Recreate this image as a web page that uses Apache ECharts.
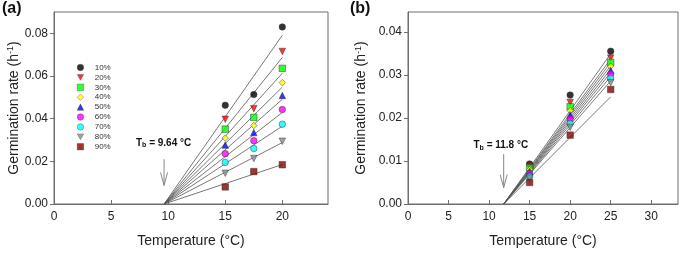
<!DOCTYPE html>
<html>
<head>
<meta charset="utf-8">
<script src="https://cdn.jsdelivr.net/npm/echarts@6/dist/echarts.min.js"></script>
<style>
  html, body { margin: 0; padding: 0; background: #fff; }
  #chart { width: 685px; height: 253px; }
</style>
</head>
<body>
<div id="chart"></div>
<script>
// germination levels (legend)
var levels = ['10%', '20%', '30%', '40%', '50%', '60%', '70%', '80%', '90%'];

// panel (a): temperatures and rates
var tempsA = [15, 17.5, 20];
var rateA15 = [0.0463, 0.0397, 0.0351, 0.0309, 0.0276, 0.0236, 0.0195, 0.0144, 0.0080];
var rateA175 = [0.0513, 0.0447, 0.0406, 0.0368, 0.0335, 0.0297, 0.0260, 0.0213, 0.0152];
var rateA20 = [0.0830, 0.0715, 0.0636, 0.0569, 0.0509, 0.0443, 0.0374, 0.0294, 0.0184];
var tbA = 9.64;
var fitEndA = [0.0791, 0.0687, 0.0613, 0.0548, 0.0491, 0.0429, 0.0365, 0.0288, 0.0185];

// panel (b)
var tempsB = [15, 20, 25];
var rateB15 = [0.0093, 0.0088, 0.0084, 0.0080, 0.0076, 0.0071, 0.0064, 0.0060, 0.0050];
var rateB20 = [0.0253, 0.0236, 0.0226, 0.0217, 0.0207, 0.0198, 0.0187, 0.0178, 0.0160];
var rateB25 = [0.0355, 0.0339, 0.0329, 0.0320, 0.0310, 0.0302, 0.0292, 0.0282, 0.0266];
var tbB = 11.8;
var fitEndB = [0.0349, 0.0337, 0.0329, 0.0321, 0.0313, 0.0305, 0.0296, 0.0286, 0.0249];

var markers = [
  {symbol: 'circle', color: '#000000'},
  {symbol: 'path://M0,0L10,0L5,9Z', color: '#ff0000'},
  {symbol: 'rect', color: '#00ff00'},
  {symbol: 'diamond', color: '#ffff00'},
  {symbol: 'triangle', color: '#0000ff'},
  {symbol: 'circle', color: '#ff00ff'},
  {symbol: 'circle', color: '#00ffff'},
  {symbol: 'path://M0,0L10,0L5,9Z', color: '#8c8c8c'},
  {symbol: 'rect', color: '#8b0000'}
];

var chart = echarts.init(document.getElementById('chart'));
var font = '"Liberation Sans", Arial, sans-serif';
var axisGray = '#6e6e6e';

function yAxisFor(idx, max, step) {
  return {
    type: 'value', gridIndex: idx, min: 0, max: max, interval: step,
    name: '{n|Germination rate (h}{s|-1}{n|)}',
    nameLocation: 'middle', nameGap: idx === 0 ? 32 : 39, nameRotate: 90,
    nameTextStyle: {
      rich: {
        n: {fontSize: 14, fontFamily: font, color: '#222'},
        s: {fontSize: 9, fontFamily: font, color: '#222', verticalAlign: 'top', padding: [0, 0, 6, 0]}
      }
    },
    axisLine: {show: true, lineStyle: {color: axisGray}},
    axisTick: {show: true, length: 4, lineStyle: {color: axisGray}},
    axisLabel: {fontSize: 12, fontFamily: font, color: '#222', margin: 6,
      showMaxLabel: false,
      formatter: function (v) { return v.toFixed(2); }},
    splitLine: {show: false}
  };
}

function xAxisFor(idx, max) {
  return {
    type: 'value', gridIndex: idx, min: 0, max: max, interval: 5,
    name: 'Temperature (°C)', nameLocation: 'middle', nameGap: 30,
    nameTextStyle: {fontSize: 14, fontFamily: font, color: '#222'},
    axisLine: {show: true, onZero: false, lineStyle: {color: axisGray}},
    axisTick: {show: true, inside: true, length: 4, lineStyle: {color: axisGray}},
    axisLabel: {fontSize: 12, fontFamily: font, color: '#222', margin: 7,
      showMaxLabel: false},
    splitLine: {show: false}
  };
}

var series = [];
function addPanel(idx, temps, cols, tb, ends, xEnd) {
  levels.forEach(function (lv, i) {
    series.push({
      type: 'line', xAxisIndex: idx, yAxisIndex: idx, silent: true,
      symbol: 'none', lineStyle: {color: '#555', width: 0.8}, z: 1,
      data: [[tb, 0], [xEnd, ends[i]]]
    });
  });
  levels.forEach(function (lv, i) {
    series.push({
      type: 'scatter', name: lv, xAxisIndex: idx, yAxisIndex: idx,
      symbol: markers[i].symbol, symbolSize: 6.5, z: 3,
      itemStyle: {color: markers[i].color, borderColor: '#333', borderWidth: 0.6},
      data: temps.map(function (t, k) { return [t, cols[k][i]]; })
    });
  });
}
addPanel(0, tempsA, [rateA15, rateA175, rateA20], tbA, fitEndA, 20);
addPanel(1, tempsB, [rateB15, rateB20, rateB25], tbB, fitEndB, 25);

var option = {
  animation: false,
  backgroundColor: '#fff',
  grid: [
    {left: 54, right: 357, top: 12, bottom: 45.5, show: true, borderColor: axisGray, borderWidth: 1},
    {left: 408, right: 7, top: 12, bottom: 43.7, show: true, borderColor: axisGray, borderWidth: 1}
  ],
  xAxis: [xAxisFor(0, 24), xAxisFor(1, 33.3)],
  yAxis: [yAxisFor(0, 0.09, 0.02), yAxisFor(1, 0.0446, 0.01)],
  legend: {
    data: levels, orient: 'vertical', left: 77, top: 63.5, padding: 0,
    itemWidth: 6.5, itemHeight: 6.5, itemGap: 1.9, selectedMode: false,
    itemStyle: {borderWidth: 0.4},
    textStyle: {fontSize: 8, fontFamily: font, color: '#333', padding: [0, 0, 0, 6], lineHeight: 8}
  },
  series: series
};
chart.setOption(option);

// annotations placed through the axes
function px(g, x, y) { return chart.convertToPixel({gridIndex: g}, [x, y]); }
function arrow(g, x, yTop, yTip) {
  var a = px(g, x, yTop), b = px(g, x, yTip);
  return [
    {type: 'line', shape: {x1: a[0], y1: a[1], x2: b[0], y2: b[1]}, style: {stroke: '#888', lineWidth: 1}},
    {type: 'polyline', shape: {points: [[b[0] - 3.5, b[1] - 13], [b[0], b[1]], [b[0] + 3.5, b[1] - 13]]},
      style: {stroke: '#888', lineWidth: 1, fill: null}}
  ];
}
function tbLabel(g, x, y, val) {
  var p = px(g, x, y);
  return {
    type: 'text', x: p[0], y: p[1],
    style: {
      text: '{t|T}{s|b}{t| = ' + val + ' °C}', align: 'center', verticalAlign: 'middle',
      rich: {
        t: {fontSize: 10, fontWeight: 'bold', fontFamily: font, fill: '#111'},
        s: {fontSize: 7, fontWeight: 'bold', fontFamily: font, fill: '#111', padding: [5, 0, 0, 0]}
      }
    }
  };
}
var graphics = []
  .concat(arrow(0, tbA, 0.021, 0.0087))
  .concat(arrow(1, tbB, 0.0116, 0.0038));
graphics.push(tbLabel(0, 9.6, 0.0286, '9.64'));
graphics.push(tbLabel(1, 11.45, 0.0136, '11.8'));
graphics.push({type: 'text', left: 2, top: 1, style: {text: '(a)', fontSize: 16, fontWeight: 'bold', fontFamily: font, fill: '#111'}});
graphics.push({type: 'text', left: 350, top: 1, style: {text: '(b)', fontSize: 16, fontWeight: 'bold', fontFamily: font, fill: '#111'}});
chart.setOption({graphic: graphics});
</script>
</body>
</html>
